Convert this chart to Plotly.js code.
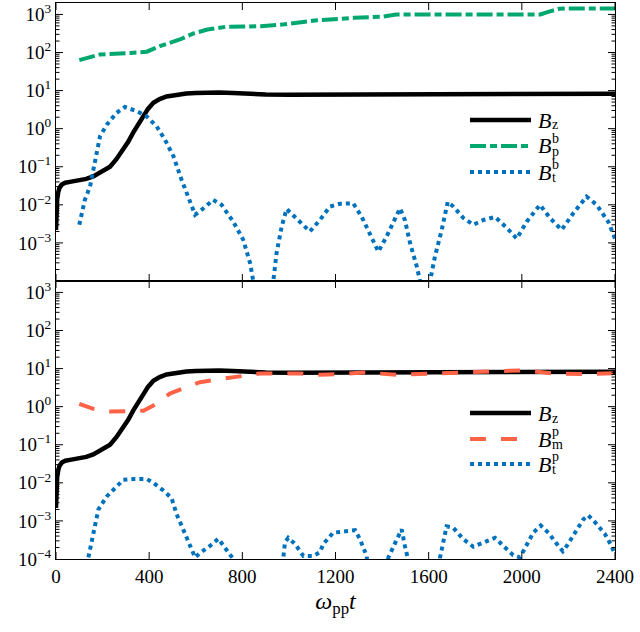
<!DOCTYPE html>
<html>
<head>
<meta charset="utf-8">
<script src="https://cdn.plot.ly/plotly-3.0.1.min.js"></script>
<style>
  html, body { margin: 0; padding: 0; background: #fff; }
  #plot { width: 640px; height: 632px; }
</style>
</head>
<body>
<div id="plot"></div>
<script>
// time axis (omega_pp t) and field amplitudes

// B_z, same curve in both panels
var tBz = [0, 2, 5, 10, 15, 25, 40, 60, 100, 130,
           160, 200, 232, 260, 289, 310, 332, 355, 375, 395,
           418, 445, 475, 520, 560, 600, 650, 700, 760, 820,
           900, 1000, 1100, 1150, 1200, 1400, 1600, 1800, 2000, 2200,
           2400];
var Bz = [0.0022, 0.006, 0.014, 0.022, 0.028, 0.034, 0.038, 0.040, 0.044, 0.048,
          0.056, 0.075, 0.10, 0.16, 0.28, 0.45, 0.80, 1.4, 2.3, 3.3,
          4.8, 6.0, 7.0, 7.9, 8.4, 8.7, 9.0, 8.9, 8.6, 8.2,
          7.9, 7.8, 7.8, 8.0, 8.0, 8.0, 8.0, 8.1, 8.1, 8.2,
          8.3];

// top panel: B_p^b
var tBpb = [100, 190, 320, 390, 446, 532, 590, 650, 730, 880,
            980, 1120, 1280, 1400, 1460, 1500, 2080, 2110, 2160, 2200,
            2400];
var Bpb = [63, 89, 97, 105, 147, 220, 316, 400, 475, 490,
           550, 700, 815, 870, 1000, 1000, 1000, 1150, 1400, 1440,
           1440];

// top panel: B_t^b
var tBtb = [100, 124, 146, 167, 189, 218, 260, 296, 346, 389,
            432, 468, 504, 539, 575, 597, 632, 675, 711, 761,
            804, 833, 847, 870, 915, 933, 947, 969, 990, 1047,
            1090, 1133, 1176, 1219, 1276, 1312, 1348, 1384, 1420, 1448,
            1477, 1498, 1520, 1549, 1563, 1580, 1595, 1606, 1627, 1656,
            1682, 1706, 1749, 1792, 1835, 1885, 1935, 1978, 2021, 2078,
            2121, 2171, 2221, 2278, 2321, 2371, 2400];
var Btb = [0.003, 0.0135, 0.03, 0.15, 0.63, 1.27, 2.6, 3.7, 2.9, 2.1,
           1.15, 0.51, 0.19, 0.046, 0.0135, 0.0055, 0.008, 0.0135, 0.01, 0.0036,
           0.0012, 3e-4, 1e-4, 2e-5, 2e-5, 1e-4, 5.4e-4, 2.7e-3, 0.0078, 0.0036,
           0.002, 0.004, 0.009, 0.0107, 0.011, 0.0049, 0.0018, 5.9e-4, 0.0015, 0.0036,
           0.0081, 0.004, 0.001, 2.4e-4, 1e-4, 2e-5, 2e-5, 1e-4, 4.4e-4, 0.0022,
           0.012, 0.009, 0.0045, 0.003, 0.004, 0.0048, 0.0025, 0.0013, 0.0036, 0.01,
           0.0045, 0.0022, 0.006, 0.0165, 0.01, 0.0036, 0.0013];

// bottom panel: B_m^p
var tBmp = [100, 160, 232, 289, 375, 418, 489, 539, 618, 675,
            761, 804, 876, 1047, 1133, 1205, 1319, 1463, 1591, 1749,
            1878, 2007, 2136, 2278, 2400];
var Bmp = [1.19, 0.88, 0.75, 0.75, 0.78, 1.07, 2.2, 2.9, 4.4, 5.0,
           5.9, 6.5, 7.4, 7.4, 6.9, 7.1, 7.9, 6.9, 7.2, 7.9,
           8.5, 9.0, 7.4, 7.2, 7.6];

// bottom panel: B_t^p
var tBtp = [139, 160, 182, 218, 253, 289, 332, 389, 418, 461,
            496, 518, 546, 575, 597, 625, 661, 697, 740, 761,
            780, 960, 976, 983, 997, 1026, 1062, 1105, 1133, 1148,
            1190, 1248, 1284, 1305, 1334, 1345, 1415, 1427, 1455, 1484,
            1498, 1508, 1520, 1635, 1649, 1663, 1677, 1706, 1749, 1792,
            1835, 1885, 1928, 1963, 1992, 2021, 2049, 2081, 2114, 2150,
            2176, 2193, 2228, 2264, 2285, 2314, 2357, 2385, 2400];
var Btp = [1.1e-4, 4.9e-4, 0.002, 0.0044, 0.0072, 0.012, 0.0126, 0.0126, 0.01, 0.0063,
           0.004, 0.0015, 6e-4, 2.2e-4, 1.1e-4, 1.55e-4, 2.2e-4, 3.4e-4, 1.5e-4, 1e-4,
           2e-5, 2e-5, 1.1e-4, 2.7e-4, 3.6e-4, 2.5e-4, 1.2e-4, 1.2e-4, 1.5e-4, 2.5e-4,
           4.9e-4, 5.4e-4, 5.7e-4, 3.3e-4, 1.2e-4, 2e-5, 2e-5, 1.1e-4, 2.7e-4, 6e-4,
           2.2e-4, 1.2e-4, 2e-5, 2e-5, 1.1e-4, 2.7e-4, 7.2e-4, 6.6e-4, 3.3e-4, 2.1e-4,
           2.7e-4, 3.6e-4, 2e-4, 1.26e-4, 1.1e-4, 2.5e-4, 4.9e-4, 7.6e-4, 4.9e-4, 2.5e-4,
           1.6e-4, 2.2e-4, 4.9e-4, 1.1e-3, 1.4e-3, 9.3e-4, 4.5e-4, 2.2e-4, 1.3e-4];

var xTicks = [0, 400, 800, 1200, 1600, 2000, 2400];
var yTopTicks = [1e-3, 1e-2, 1e-1, 1, 10, 100, 1000];
var yTopText = ['10<sup>−3</sup>', '10<sup>−2</sup>', '10<sup>−1</sup>', '10<sup>0</sup>',
                '10<sup>1</sup>', '10<sup>2</sup>', '10<sup>3</sup>'];
var yBotTicks = [1e-4, 1e-3, 1e-2, 1e-1, 1, 10, 100, 1000];
var yBotText = ['10<sup>−4</sup>'].concat(yTopText);

// legend entries: [label base, subscript, superscript]
var topLegend = [['B', 'z', ''], ['B', 'p', 'b'], ['B', 't', 'b']];
var botLegend = [['B', 'z', ''], ['B', 'm', 'p'], ['B', 't', 'p']];

var black = '#000000', green = '#00a86e', blue = '#0072bd', orange = '#ff6347';
var FONT = "'Liberation Serif', 'DejaVu Serif', serif";
var yRange = [-4, 3.3];

var styles = {
    bz: {color: black, width: 4.5},
    bp: {color: green, width: 4, dash: '16px,4px,7px,4px'},
    bt: {color: blue, width: 4, dash: '4px,4px'},
    bm: {color: orange, width: 4, dash: '16px,15px'}
};

var data = [
    {x: tBz, y: Bz, mode: 'lines', line: styles.bz, xaxis: 'x', yaxis: 'y'},
    {x: tBpb, y: Bpb, mode: 'lines', line: styles.bp, xaxis: 'x', yaxis: 'y'},
    {x: tBtb, y: Btb, mode: 'lines', line: styles.bt, xaxis: 'x', yaxis: 'y'},
    {x: tBz, y: Bz, mode: 'lines', line: styles.bz, xaxis: 'x2', yaxis: 'y2'},
    {x: tBmp, y: Bmp, mode: 'lines', line: styles.bm, xaxis: 'x2', yaxis: 'y2'},
    {x: tBtp, y: Btp, mode: 'lines', line: styles.bt, xaxis: 'x2', yaxis: 'y2'}
];

// minor ticks 2..9 in every decade
var minorVals = [];
for (var d = -4; d <= 3; d++) {
    for (var k = 2; k <= 9; k++) minorVals.push(k * Math.pow(10, d));
}

var xBase = {
    range: [0, 2400], tickmode: 'array', tickvals: xTicks, ticks: '',
    showline: true, linecolor: black, linewidth: 1, mirror: true,
    showgrid: false, zeroline: false
};
var yBase = {
    type: 'log', range: yRange, ticks: '', tickmode: 'array',
    showline: true, linecolor: black, linewidth: 1, mirror: true,
    showgrid: false, zeroline: false
};

var shapes = [], annotations = [];

// inward tick marks on all four sides of a panel, placed on the axes' own references
function addTicks(xa, ya, majors) {
    var tk = {color: black, width: 1};
    xTicks.forEach(function (v) {
        [[0, 7], [1, -7]].forEach(function (s) {
            shapes.push({type: 'line', xref: xa, yref: ya + ' domain', ysizemode: 'pixel',
                         yanchor: s[0], x0: v, x1: v, y0: 0, y1: s[1], line: tk});
        });
    });
    function yTick(v, len) {
        var f = (Math.log10(v) - yRange[0]) / (yRange[1] - yRange[0]);
        if (f <= 0 || f >= 1) return;
        [[0, len], [1, -len]].forEach(function (s) {
            shapes.push({type: 'line', xref: xa + ' domain', yref: ya + ' domain', xsizemode: 'pixel',
                         xanchor: s[0], x0: 0, x1: s[1], y0: f, y1: f, line: tk});
        });
    }
    majors.forEach(function (v) { yTick(v, 7); });
    minorVals.forEach(function (v) { yTick(v, 3.5); });
}
addTicks('x', 'y', yBotTicks);
addTicks('x2', 'y2', yBotTicks);

// manual legend, placed in pixel terms of the 640x632 page
var L = 56, R = 615, T = 3, B = 559;
function px(x) { return (x - L) / (R - L); }
function py(y) { return (B - y) / (B - T); }

function addLegend(entries, lines, rowY) {
    entries.forEach(function (e, i) {
        var y = rowY[i];
        shapes.push({type: 'line', xref: 'paper', yref: 'paper',
                     x0: px(470), x1: px(531), y0: py(y), y1: py(y), line: lines[i]});
        annotations.push({xref: 'paper', yref: 'paper', x: px(536), y: py(y),
                          xanchor: 'left', yanchor: 'middle', showarrow: false,
                          text: '<i>' + e[0] + '</i>', font: {family: FONT, size: 22}});
        annotations.push({xref: 'paper', yref: 'paper', x: px(550), y: py(y + 5),
                          xanchor: 'left', yanchor: 'middle', showarrow: false,
                          text: e[1], font: {family: FONT, size: 14}});
        if (e[2]) {
            annotations.push({xref: 'paper', yref: 'paper', x: px(550), y: py(y - 8),
                              xanchor: 'left', yanchor: 'middle', showarrow: false,
                              text: e[2], font: {family: FONT, size: 14}});
        }
    });
}
addLegend(topLegend, [styles.bz, styles.bp, styles.bt], [120, 146, 172]);
addLegend(botLegend, [styles.bz, styles.bm, styles.bt], [413, 439, 464]);

var layout = {
    width: 640, height: 632,
    margin: {l: L, r: 640 - R, t: T, b: 632 - B},
    paper_bgcolor: '#fff', plot_bgcolor: '#fff',
    font: {family: FONT, size: 19, color: black},
    showlegend: false,
    xaxis: Object.assign({}, xBase, {anchor: 'y', showticklabels: false}),
    xaxis2: Object.assign({}, xBase, {anchor: 'y2',
        title: {text: '<i>ω</i><sub>pp</sub><i>t</i>', font: {family: FONT, size: 24}, standoff: 6}}),
    yaxis: Object.assign({}, yBase, {domain: [0.5, 1], anchor: 'x',
        tickvals: yTopTicks, ticktext: yTopText}),
    yaxis2: Object.assign({}, yBase, {domain: [0, 0.5], anchor: 'x2',
        tickvals: yBotTicks, ticktext: yBotText}),
    shapes: shapes,
    annotations: annotations
};

Plotly.newPlot('plot', data, layout, {displayModeBar: false});
</script>
</body>
</html>
